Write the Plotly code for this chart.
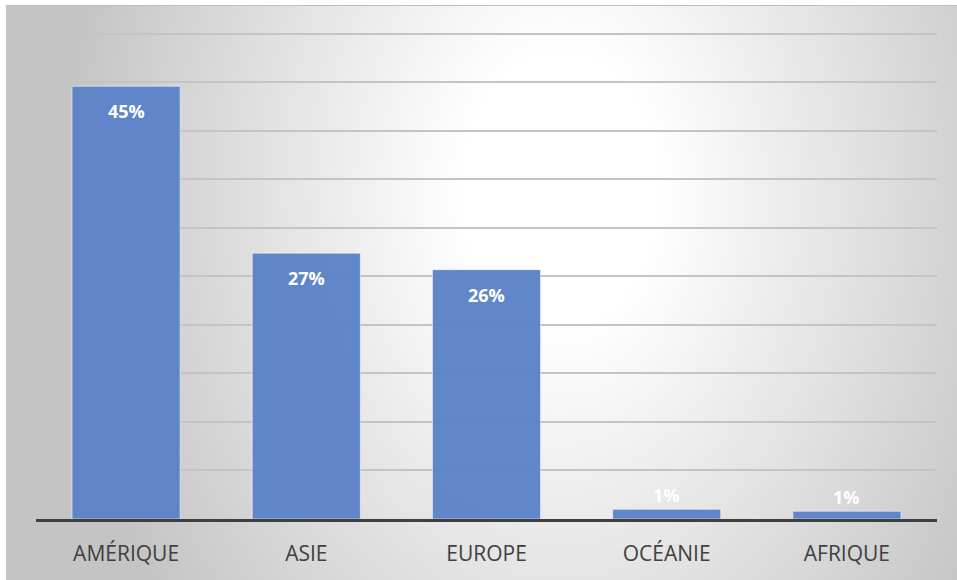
import base64, zlib, struct
import numpy as np
import plotly.graph_objects as go

categories = ["AMÉRIQUE", "ASIE", "EUROPE", "OCÉANIE", "AFRIQUE"]
values = [0.446, 0.274, 0.257, 0.010, 0.008]
labels = ["45%", "27%", "26%", "1%", "1%"]

W, H = 957, 580
PL, PR, PT, PB = 36, 937, 29, 519  # plot area in pixels

# ---- radial gradient background as PNG ----
bw, bh = W - 6, H - 5
yy, xx = np.mgrid[0:bh, 0:bw].astype(float)
cx, cy = 560 - 6, 190 - 5
t = np.sqrt(((xx - cx) / 500.0) ** 2 + ((yy - cy) / 700.0) ** 2)
t = np.clip((t - 0.2) / 0.8, 0, 1)
g = (255 - t * (255 - 196)).astype(np.uint8)
rgb = np.stack([g, g, g], axis=-1)
raw = b"".join(b"\x00" + rgb[r].tobytes() for r in range(bh))
def chunk(tag, data):
    c = struct.pack(">I", len(data)) + tag + data
    return c + struct.pack(">I", zlib.crc32(tag + data) & 0xffffffff)
png = b"\x89PNG\r\n\x1a\n" + chunk(b"IHDR", struct.pack(">IIBBBBB", bw, bh, 8, 2, 0, 0, 0)) \
    + chunk(b"IDAT", zlib.compress(raw, 9)) + chunk(b"IEND", b"")
uri = "data:image/png;base64," + base64.b64encode(png).decode()

def px2x(px):
    return (px - PL) / (PR - PL)
def px2y(py):
    return (PB - py) / (PB - PT)

fig = go.Figure()
fig.add_trace(go.Bar(
    x=categories, y=values,
    marker=dict(color="#5b83c8", line=dict(color="rgba(255,255,255,0.55)", width=1)),
    opacity=0.96,
    hoverinfo="skip",
))

for c, v, lab in zip(categories, values, labels):
    fig.add_annotation(x=c, y=v, xref="x", yref="y", text=lab, showarrow=False,
                       yshift=-25 if v > 0.05 else 14,
                       font=dict(family="Open Sans", size=18, color="white", weight="bold"))

fig.add_layout_image(dict(source=uri, xref="paper", yref="paper",
                          x=px2x(6), y=px2y(5), sizex=bw / (PR - PL), sizey=bh / (PB - PT),
                          xanchor="left", yanchor="top", sizing="stretch", layer="below"))
fig.add_shape(type="line", xref="paper", yref="paper", x0=px2x(6), x1=px2x(W), y0=px2y(5.5), y1=px2y(5.5),
              line=dict(color="#bdbdbd", width=1))
fig.add_shape(type="line", xref="paper", yref="paper", x0=px2x(6.5), x1=px2x(6.5), y0=px2y(5), y1=px2y(H),
              line=dict(color="#c4c4c4", width=1))

fig.update_layout(
    width=W, height=H,
    margin=dict(l=PL, r=W - PR, t=PT, b=H - PB),
    paper_bgcolor="white", plot_bgcolor="rgba(0,0,0,0)",
    bargap=0.4, showlegend=False,
    font=dict(family="Open Sans"),
)
fig.update_xaxes(showgrid=False, showline=True, linecolor="#3f3f3f", linewidth=3,
                 ticks="", ticklabelstandoff=14,
                 tickfont=dict(family="Open Sans", size=21, color="#404040"))
fig.update_yaxes(range=[0, 0.505], tickvals=[0.05 * i for i in range(11)], showgrid=True,
                 gridcolor="#c4c4c4", gridwidth=1.5,
                 showticklabels=False, zeroline=False, ticks="")

fig.write_html("out.html")
